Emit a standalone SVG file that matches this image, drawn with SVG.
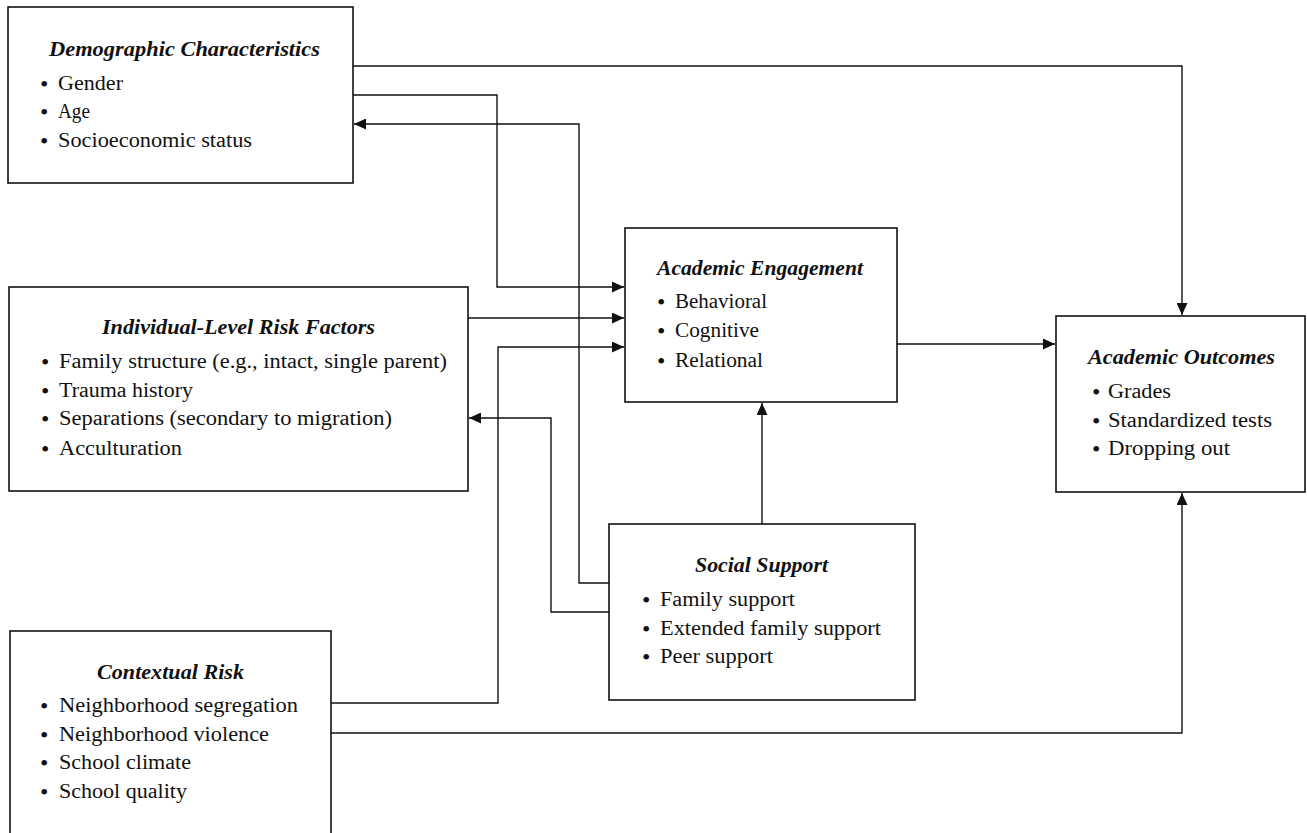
<svg xmlns="http://www.w3.org/2000/svg" width="1307" height="833" viewBox="0 0 1307 833">
<style>
.box{fill:#fff;stroke:#111;stroke-width:1.6}
.title{font-family:"Liberation Serif",serif;font-size:20px;font-weight:bold;font-style:italic;fill:#111}
.item{font-family:"Liberation Serif",serif;font-size:20px;fill:#111}
.bul{font-family:"Liberation Serif",serif;font-size:24px;fill:#111}
.conn{fill:none;stroke:#111;stroke-width:1.4}
</style>
<defs>
<marker id="arr" markerUnits="userSpaceOnUse" markerWidth="13" markerHeight="11" refX="12" refY="5.5" orient="auto">
<path d="M0,0 L12,5.5 L0,11 Z" fill="#111"/>
</marker>
</defs>
<rect width="1307" height="833" fill="#fff"/>

<g id="connectors">
<path class="conn" d="M353,66 H1182 V315" marker-end="url(#arr)"/>
<path class="conn" d="M353,95 H497 V287 H624" marker-end="url(#arr)"/>
<path class="conn" d="M609,583 H579 V124 H354" marker-end="url(#arr)"/>
<path class="conn" d="M468,318 H624" marker-end="url(#arr)"/>
<path class="conn" d="M331,703 H498 V347 H624" marker-end="url(#arr)"/>
<path class="conn" d="M609,612 H551 V418 H469" marker-end="url(#arr)"/>
<path class="conn" d="M762,524 V403" marker-end="url(#arr)"/>
<path class="conn" d="M897,344 H1055" marker-end="url(#arr)"/>
<path class="conn" d="M331,733 H1182 V493" marker-end="url(#arr)"/>
</g>

<g id="demographic">
<rect class="box" x="8" y="7" width="345" height="176"/>
<text class="title" x="49" y="56" textLength="271" lengthAdjust="spacingAndGlyphs">Demographic Characteristics</text>
<text class="bul" x="40" y="92">•</text><text class="item" x="58" y="90" textLength="65" lengthAdjust="spacingAndGlyphs">Gender</text>
<text class="bul" x="40" y="120">•</text><text class="item" x="58" y="118" textLength="32" lengthAdjust="spacingAndGlyphs">Age</text>
<text class="bul" x="40" y="149">•</text><text class="item" x="58" y="147" textLength="194" lengthAdjust="spacingAndGlyphs">Socioeconomic status</text>
</g>

<g id="individual">
<rect class="box" x="9" y="287" width="459" height="204"/>
<text class="title" x="102" y="334" textLength="273" lengthAdjust="spacingAndGlyphs">Individual-Level Risk Factors</text>
<text class="bul" x="41" y="370">•</text><text class="item" x="59" y="368" textLength="388" lengthAdjust="spacingAndGlyphs">Family structure (e.g., intact, single parent)</text>
<text class="bul" x="41" y="399">•</text><text class="item" x="59" y="397" textLength="134" lengthAdjust="spacingAndGlyphs">Trauma history</text>
<text class="bul" x="41" y="427">•</text><text class="item" x="59" y="425" textLength="333" lengthAdjust="spacingAndGlyphs">Separations (secondary to migration)</text>
<text class="bul" x="41" y="457">•</text><text class="item" x="59" y="455" textLength="123" lengthAdjust="spacingAndGlyphs">Acculturation</text>
</g>

<g id="contextual">
<rect class="box" x="10" y="631" width="321" height="220"/>
<text class="title" x="97" y="679" textLength="147" lengthAdjust="spacingAndGlyphs">Contextual Risk</text>
<text class="bul" x="40" y="714">•</text><text class="item" x="59" y="712" textLength="239" lengthAdjust="spacingAndGlyphs">Neighborhood segregation</text>
<text class="bul" x="40" y="743">•</text><text class="item" x="59" y="741" textLength="210" lengthAdjust="spacingAndGlyphs">Neighborhood violence</text>
<text class="bul" x="40" y="771">•</text><text class="item" x="59" y="769" textLength="132" lengthAdjust="spacingAndGlyphs">School climate</text>
<text class="bul" x="40" y="800">•</text><text class="item" x="59" y="798" textLength="128" lengthAdjust="spacingAndGlyphs">School quality</text>
</g>

<g id="engagement">
<rect class="box" x="625" y="228" width="272" height="174"/>
<text class="title" x="657" y="275" textLength="206" lengthAdjust="spacingAndGlyphs">Academic Engagement</text>
<text class="bul" x="657" y="310">•</text><text class="item" x="675" y="308" textLength="92" lengthAdjust="spacingAndGlyphs">Behavioral</text>
<text class="bul" x="657" y="339">•</text><text class="item" x="675" y="337" textLength="84" lengthAdjust="spacingAndGlyphs">Cognitive</text>
<text class="bul" x="657" y="369">•</text><text class="item" x="675" y="367" textLength="88" lengthAdjust="spacingAndGlyphs">Relational</text>
</g>

<g id="social">
<rect class="box" x="609" y="524" width="306" height="176"/>
<text class="title" x="695" y="572" textLength="133" lengthAdjust="spacingAndGlyphs">Social Support</text>
<text class="bul" x="642" y="608">•</text><text class="item" x="660" y="606" textLength="135" lengthAdjust="spacingAndGlyphs">Family support</text>
<text class="bul" x="642" y="637">•</text><text class="item" x="660" y="635" textLength="221" lengthAdjust="spacingAndGlyphs">Extended family support</text>
<text class="bul" x="642" y="665">•</text><text class="item" x="660" y="663" textLength="113" lengthAdjust="spacingAndGlyphs">Peer support</text>
</g>

<g id="outcomes">
<rect class="box" x="1056" y="316" width="249" height="176"/>
<text class="title" x="1088" y="364" textLength="187" lengthAdjust="spacingAndGlyphs">Academic Outcomes</text>
<text class="bul" x="1092" y="400">•</text><text class="item" x="1108" y="398" textLength="63" lengthAdjust="spacingAndGlyphs">Grades</text>
<text class="bul" x="1092" y="429">•</text><text class="item" x="1108" y="427" textLength="164" lengthAdjust="spacingAndGlyphs">Standardized tests</text>
<text class="bul" x="1092" y="457">•</text><text class="item" x="1108" y="455" textLength="122" lengthAdjust="spacingAndGlyphs">Dropping out</text>
</g>
</svg>
